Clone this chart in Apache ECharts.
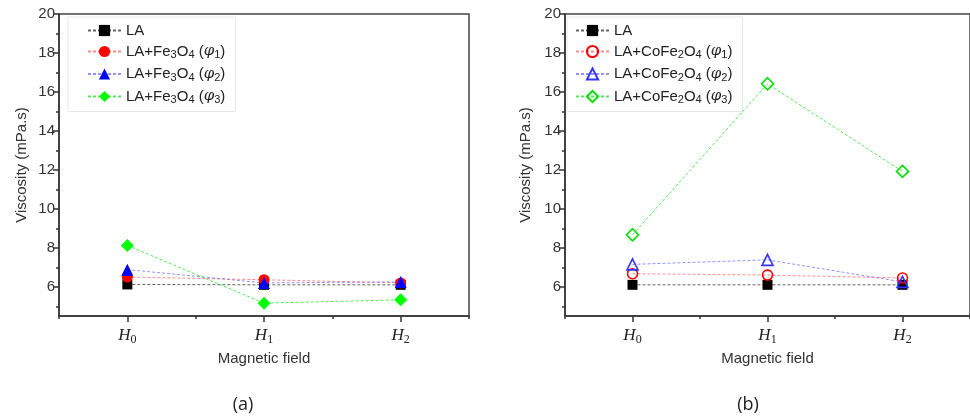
<!DOCTYPE html>
<html>
<head>
<meta charset="utf-8">
<script src="https://cdn.jsdelivr.net/npm/echarts@6/dist/echarts.min.js"></script>
<style>
  html, body { margin: 0; padding: 0; background: #fff; }
  #chart { width: 970px; height: 420px; }
</style>
</head>
<body>
<div id="chart"></div>
<script>
// Field levels along the x axis and viscosity tick values
const categories = ['H0', 'H1', 'H2'];
const yTickValues = [6, 8, 10, 12, 14, 16, 18, 20];
const yMinorValues = [5, 7, 9, 11, 13, 15, 17, 19];

// (a) lauric acid with Fe3O4 nanoparticles, viscosity in mPa.s
const laA = [6.12, 6.10, 6.10];
const fe3o4Phi1 = [6.50, 6.36, 6.20];
const fe3o4Phi2 = [6.88, 6.20, 6.25];
const fe3o4Phi3 = [8.12, 5.16, 5.33];

// (b) lauric acid with CoFe2O4 nanoparticles, viscosity in mPa.s
const laB = [6.10, 6.10, 6.10];
const cofe2o4Phi1 = [6.67, 6.60, 6.45];
const cofe2o4Phi2 = [7.15, 7.38, 6.25];
const cofe2o4Phi3 = [8.67, 16.42, 11.92];

const chart = echarts.init(document.getElementById('chart'));

const font = 'Liberation Sans, Arial, sans-serif';
const axisColor = '#333';

function pairs(values) {
  return values.map((v, i) => [i, v]);
}

function xMain(gridIndex) {
  return {
    type: 'value', gridIndex, min: -0.5, max: 2.5, position: 'bottom',
    name: 'Magnetic field', nameLocation: 'middle', nameGap: 33,
    nameTextStyle: { fontFamily: font, fontSize: 15, color: '#333' },
    axisLine: { show: true, onZero: false, lineStyle: { color: axisColor, width: 1.5 } },
    axisTick: { show: true, customValues: [0, 1, 2], length: 6, lineStyle: { color: axisColor, width: 1.5 } },
    axisLabel: {
      show: true, customValues: [0, 1, 2], margin: 10,
      formatter: v => {
        const c = categories[Math.round(v)] || '';
        return '{i|' + c.charAt(0) + '}{s|' + c.slice(1) + '}';
      },
      rich: {
        i: { fontFamily: 'Liberation Serif, DejaVu Serif, serif', fontStyle: 'italic', fontSize: 17, color: '#222', lineHeight: 20, verticalAlign: 'middle' },
        s: { fontFamily: 'Liberation Serif, DejaVu Serif, serif', fontSize: 12, color: '#222', lineHeight: 12, verticalAlign: 'bottom' }
      }
    },
    splitLine: { show: false }
  };
}

function xMinor(gridIndex) {
  return {
    type: 'value', gridIndex, min: -0.5, max: 2.5, position: 'bottom',
    axisLine: { show: false, onZero: false },
    axisTick: { show: true, customValues: [-0.5, 0.5, 1.5, 2.5], length: 3, lineStyle: { color: axisColor, width: 1.5 } },
    axisLabel: { show: false },
    splitLine: { show: false }
  };
}

function yMain(gridIndex, gap) {
  return {
    type: 'value', gridIndex, min: 4.5, max: 20, position: 'left',
    name: 'Viscosity (mPa.s)', nameLocation: 'middle', nameGap: gap, nameRotate: 90,
    nameTextStyle: { fontFamily: font, fontSize: 15, color: '#333' },
    axisLine: { show: true, onZero: false, lineStyle: { color: axisColor, width: 1.5 } },
    axisTick: { show: true, customValues: yTickValues, length: 6, lineStyle: { color: axisColor, width: 1.5 } },
    axisLabel: { show: true, customValues: yTickValues, margin: 4, fontFamily: font, fontSize: 15, color: '#333' },
    splitLine: { show: false }
  };
}

function yMinor(gridIndex) {
  return {
    type: 'value', gridIndex, min: 4.5, max: 20, position: 'left',
    axisLine: { show: false, onZero: false },
    axisTick: { show: true, customValues: yMinorValues, length: 3, lineStyle: { color: axisColor, width: 1.5 } },
    axisLabel: { show: false },
    splitLine: { show: false }
  };
}

function lineSeries(name, values, axisIndex, symbol, size, color, lineColor, hollow, z) {
  return {
    type: 'line', name, data: pairs(values),
    xAxisIndex: axisIndex, yAxisIndex: axisIndex,
    symbol, symbolSize: size,
    itemStyle: hollow
      ? { color: 'rgba(255,255,255,0)', borderColor: color, borderWidth: 1.6 }
      : { color: color, borderWidth: 0 },
    lineStyle: { color: lineColor, width: 1, type: [3, 2] },
    emphasis: { disabled: true },
    animation: false, z: z
  };
}

const legendRich = {
  t: { fontFamily: font, fontSize: 15, color: '#222', lineHeight: 18, verticalAlign: 'middle' },
  s: { fontFamily: font, fontSize: 11, color: '#222', lineHeight: 11, verticalAlign: 'bottom' },
  p: { fontFamily: 'DejaVu Serif, serif', fontStyle: 'italic', fontSize: 15, color: '#222', lineHeight: 18, verticalAlign: 'middle' }
};

const legendText = {
  'LA': '{t|LA}',
  'LA+Fe3O4 (φ1)': '{t|LA+Fe}{s|3}{t|O}{s|4}{t| (}{p|φ}{s|1}{t|)}',
  'LA+Fe3O4 (φ2)': '{t|LA+Fe}{s|3}{t|O}{s|4}{t| (}{p|φ}{s|2}{t|)}',
  'LA+Fe3O4 (φ3)': '{t|LA+Fe}{s|3}{t|O}{s|4}{t| (}{p|φ}{s|3}{t|)}',
  'LA+CoFe2O4 (φ1)': '{t|LA+CoFe}{s|2}{t|O}{s|4}{t| (}{p|φ}{s|1}{t|)}',
  'LA+CoFe2O4 (φ2)': '{t|LA+CoFe}{s|2}{t|O}{s|4}{t| (}{p|φ}{s|2}{t|)}',
  'LA+CoFe2O4 (φ3)': '{t|LA+CoFe}{s|2}{t|O}{s|4}{t| (}{p|φ}{s|3}{t|)}'
};

function legend(names, left, padding) {
  return {
    data: names, orient: 'vertical', left, top: 17,
    padding, itemGap: 6, itemWidth: 33, itemHeight: 14,
    borderColor: '#e8e8e8', borderWidth: 1,
    selectedMode: false,
    formatter: n => legendText[n],
    textStyle: { rich: legendRich }
  };
}

const option = {
  backgroundColor: '#fff',
  animation: false,
  grid: [
    { left: 59, top: 14, width: 410, height: 302, show: true, borderColor: '#444', borderWidth: 1.5, backgroundColor: 'transparent' },
    { left: 565, top: 14, width: 409, height: 302, show: true, borderColor: '#444', borderWidth: 1.5, backgroundColor: 'transparent' }
  ],
  xAxis: [xMain(0), xMinor(0), xMain(1), xMinor(1)],
  yAxis: [yMain(0, 30), yMinor(0), yMain(1, 32), yMinor(1)],
  legend: [
    legend(['LA', 'LA+Fe3O4 (φ1)', 'LA+Fe3O4 (φ2)', 'LA+Fe3O4 (φ3)'], 68, [6, 10, 6, 19]),
    legend(['LA', 'LA+CoFe2O4 (φ1)', 'LA+CoFe2O4 (φ2)', 'LA+CoFe2O4 (φ3)'], 567, [6, 10, 6, 8])
  ],
  series: [
    lineSeries('LA', laA, 0, 'rect', 10, '#000', 'rgba(60,60,60,0.8)', false, 2),
    lineSeries('LA+Fe3O4 (φ1)', fe3o4Phi1, 0, 'circle', 11, '#ff0000', 'rgba(255,90,90,0.7)', false, 3),
    lineSeries('LA+Fe3O4 (φ2)', fe3o4Phi2, 0, 'triangle', 12, '#0000ff', 'rgba(100,100,255,0.7)', false, 4),
    lineSeries('LA+Fe3O4 (φ3)', fe3o4Phi3, 0, 'diamond', 13, '#00ff00', 'rgba(40,230,40,0.8)', false, 5),
    lineSeries('LA', laB, 2, 'rect', 10, '#000', 'rgba(60,60,60,0.8)', false, 2),
    lineSeries('LA+CoFe2O4 (φ1)', cofe2o4Phi1, 2, 'circle', 10, '#ff0000', 'rgba(255,90,90,0.7)', true, 3),
    lineSeries('LA+CoFe2O4 (φ2)', cofe2o4Phi2, 2, 'triangle', 11, '#3333ff', 'rgba(100,100,255,0.7)', true, 4),
    lineSeries('LA+CoFe2O4 (φ3)', cofe2o4Phi3, 2, 'diamond', 12, '#00e000', 'rgba(40,230,40,0.8)', true, 5)
  ],
  graphic: [
    { type: 'text', x: 243, y: 405, style: { text: '(a)', fontFamily: 'Open Sans, Liberation Sans, sans-serif', fontSize: 18, fill: '#222', align: 'center', verticalAlign: 'middle' } },
    { type: 'text', x: 748, y: 405, style: { text: '(b)', fontFamily: 'Open Sans, Liberation Sans, sans-serif', fontSize: 18, fill: '#222', align: 'center', verticalAlign: 'middle' } }
  ]
};

chart.setOption(option);
</script>
</body>
</html>
